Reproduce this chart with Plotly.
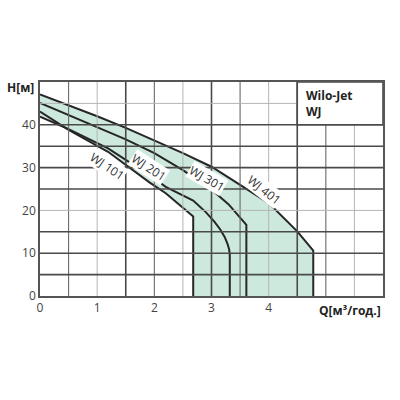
import numpy as np
import plotly.graph_objects as go

# ---- data ----
q401 = [0, 0.5, 1.0, 1.5, 2.0, 2.5, 3.0, 3.5, 4.0, 4.5, 4.78, 4.78]
h401 = [47.1, 44.6, 42.0, 39.3, 36.4, 33.4, 30.2, 26.0, 21.7, 15.1, 10.6, 0]
q301 = [0, 0.5, 1.0, 1.5, 2.0, 2.5, 3.0, 3.3, 3.61, 3.61]
h301 = [45.1, 42.3, 39.5, 36.6, 33.4, 29.4, 24.9, 21.4, 16.6, 0]
q201 = [0, 0.5, 1.19, 1.92, 2.2, 2.68, 2.9, 3.05, 3.15, 3.23, 3.28, 3.31, 3.32, 3.32]
h201 = [41.9, 39.0, 34.5, 28.2, 25.5, 22.3, 19.6, 17.4, 15.6, 13.8, 12.2, 10.8, 9.5, 0]
q101 = [0, 0.5, 1.19, 1.92, 2.2, 2.68, 2.68]
h101 = [43.1, 38.8, 33.7, 26.5, 24.0, 18.6, 0]

labels = ["WJ 101", "WJ 201", "WJ 301", "WJ 401"]
label_q = [1.18, 1.91, 2.92, 3.91]
label_h = [30.2, 30.1, 27.5, 24.8]
label_angle = [34, 33, 30, 38]

y_ticks = [0, 10, 20, 30, 40]
x_ticks = [0, 1, 2, 3, 4]

fig = go.Figure()

# ---- fill region: between top curve (401) and lower envelope ----
qa = np.linspace(0, q101[-1], 200)
low = np.minimum(np.interp(qa, q101[:-1], h101[:-1]), np.interp(qa, q201, h201))
fill_q = list(q401) + [q101[-1]] + list(qa[::-1])
fill_h = list(h401) + [0] + list(low[::-1])
fig.add_trace(go.Scatter(x=fill_q, y=fill_h, mode="lines", fill="toself",
                         fillcolor="#cde9dd", line=dict(width=0), hoverinfo="skip",
                         showlegend=False))

for q, h in [(q101, h101), (q201, h201), (q301, h301), (q401, h401)]:
    fig.add_trace(go.Scatter(x=q, y=h, mode="lines",
                             line=dict(color="#262626", width=2), showlegend=False))

# ---- grid as shapes (above fill) ----
dark, mid, light = ("#4a4a4a", 1.6), ("#6a6a6a", 1.1), ("#b5b5b5", 1.0)
vgrid = {0.5: mid, 1.0: light, 1.5: dark, 2.0: mid, 2.5: light, 3.0: dark,
         3.5: mid, 4.0: light, 4.5: dark, 5.0: mid, 5.5: light}
hgrid = {5: dark, 10: dark, 15: dark, 20: light, 25: dark, 30: dark, 35: dark,
         40: dark, 45: light}
shapes = []
for xv, (c, w) in vgrid.items():
    shapes.append(dict(type="line", xref="x", yref="y", x0=xv, x1=xv, y0=0, y1=50,
                       line=dict(color=c, width=w), layer="above"))
for yv, (c, w) in hgrid.items():
    shapes.append(dict(type="line", xref="x", yref="y", x0=0, x1=6, y0=yv, y1=yv,
                       line=dict(color=c, width=w), layer="above"))
# legend cell
shapes.append(dict(type="rect", xref="x", yref="y", x0=4.5, x1=6, y0=40, y1=50,
                   fillcolor="white", line=dict(color="#4a4a4a", width=1.6), layer="above"))
fig.update_layout(shapes=shapes)

ann = []
for t, q, h, a in zip(labels, label_q, label_h, label_angle):
    ann.append(dict(x=q, y=h, xref="x", yref="y", text=t, showarrow=False,
                    textangle=a, bgcolor="white", borderpad=0,
                    font=dict(family="Open Sans", size=12, color="#333")))
ann.append(dict(x=4.62, y=44.9, xref="x", yref="y", text="<b>Wilo-Jet<br>WJ</b>",
                showarrow=False, xanchor="left", align="left", yanchor="middle",
                font=dict(family="Open Sans", size=12, color="#222")))
ann.append(dict(x=1.0, y=0, xref="paper", yref="paper", text="<b>Q[м³/год.]</b>",
                showarrow=False, xanchor="right", yanchor="top", yshift=-4,
                font=dict(family="Open Sans", size=12, color="#222")))
ann.append(dict(x=0, y=1, xref="paper", yref="paper", text="<b>H[м]</b>",
                showarrow=False, xanchor="right", yanchor="middle", xshift=-4, yshift=-5,
                font=dict(family="Open Sans", size=12, color="#222")))
fig.update_layout(annotations=ann)

fig.update_xaxes(range=[0, 6], tickvals=x_ticks, showgrid=False, zeroline=False,
                 showline=True, mirror=True, linecolor="#555", linewidth=1.6,
                 ticks="", tickfont=dict(family="Open Sans", size=12, color="#444"))
fig.update_yaxes(range=[0, 50], tickvals=y_ticks, showgrid=False, zeroline=False,
                 showline=True, mirror=True, linecolor="#555", linewidth=1.6,
                 ticks="", tickfont=dict(family="Open Sans", size=12, color="#444"))

fig.update_layout(width=400, height=400, margin=dict(l=40, r=17, t=82, b=104),
                  plot_bgcolor="white", paper_bgcolor="white", showlegend=False)

fig.write_html("out.html")
